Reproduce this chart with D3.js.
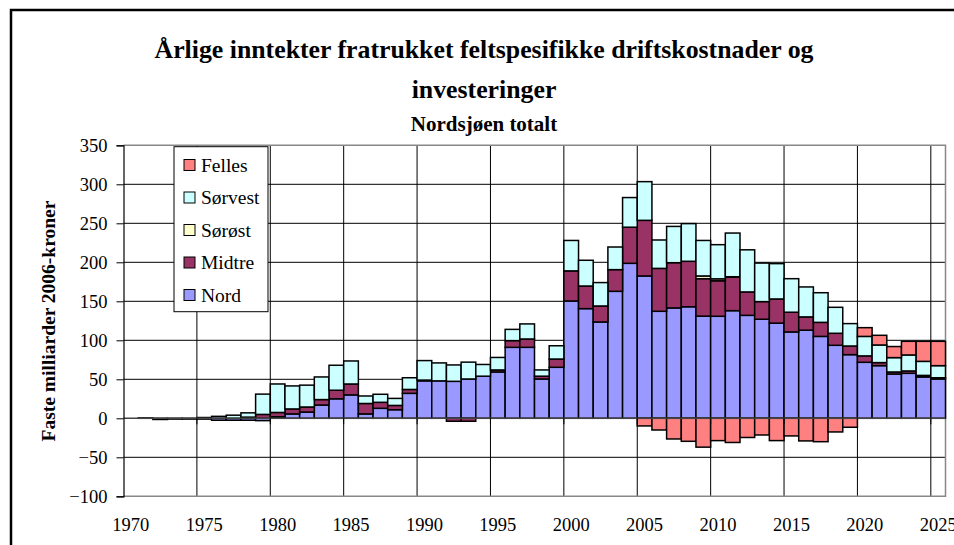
<!DOCTYPE html>
<html>
<head>
<meta charset="utf-8">
<script src="https://cdn.jsdelivr.net/npm/d3@7"></script>
<style>
  body { margin: 0; background: #fff; }
  svg text { font-family: "Liberation Serif", "Times New Roman", serif; }
</style>
</head>
<body>
<svg id="chart" width="954" height="545"></svg>
<script>
// years 1970 - 2025
const years = d3.range(1970, 2026);

// values in billion 2006-NOK
const nord = [0, 0, 0, 0, 0, -1, -2.5, -2.5, -2.5, -3,
  2, 5.6, 8, 17, 25, 30, 5.6, 12.8, 11, 32,
  48, 48, 47.4, 50.4, 54, 59.4, 91, 91, 50.4, 65.4,
  150.4, 140.6, 123.5, 162.8, 198.7, 182.5, 137.2, 141.5, 143, 131,
  130.8, 138, 132, 127, 122, 110.7, 113, 105, 93.6, 81.6,
  71.8, 67.5, 56.8, 57.7, 53, 50.4];
const midtre = [0, 0, 0, 0, 0, 0, 0, 0, 1.5, 5,
  5.5, 6.4, 6.5, 7, 11, 14, 13.4, 7.7, 5.5, 5,
  1, 0, -3.8, -3.8, 0, 2.6, 8.6, 10.7, 3.6, 10.6,
  38.6, 29, 20.5, 27.8, 46.3, 71.3, 55, 58, 58.3, 48,
  45.5, 43, 30, 22.6, 31, 25.3, 17, 18, 15.4, 11.1,
  8.2, 3.9, 2.6, 3, 2, 1.6];
const sorost = [0, 0, 0, 0, 0, 0, 0, 0, 0, 0,
  0, 0, 0, 0, 0, 0, 0, 0, 0, 0,
  0, 0, 0, 0, 0, 0, 0, 0, 0, 0,
  0, 0, 0, 0, 0, 0, 0, 0, 0, 3.5,
  2.5, 0.5, 0, 0, 0, 0, 0, 0, 0, 0,
  0, 0, 0, 0, 0, 0];
const sorvest = [0, 0.5, -1.5, -1, -1, 1, 2.5, 4, 5.5, 26,
  36.5, 29.5, 28, 29, 32, 29.5, 9.6, 10.3, 9, 15,
  25, 23, 21, 21.6, 15, 16, 14.4, 19.3, 8, 17,
  39, 33, 30, 29, 38, 49.6, 36.4, 46.5, 48.3, 45.5,
  43.8, 56, 54, 49.4, 45.3, 43, 38.4, 38, 33.3, 28.7,
  25, 22.6, 18.4, 20.5, 18, 15.5];
const felles = [0, 0, 0, 0, 0, 0, 0, 0, 0, 0,
  0, 0, 0, 0, 0, 0, 0, 0, 0, 0,
  0, 0, 0, 0, 0, 0, 0, 0, 0, 0,
  0, 0, 0, 0, 0, -9.8, -15, -26.5, -29.5, -37,
  -28.6, -31, -24.6, -21.4, -28.6, -22.6, -29, -30, -17.5, -11.5,
  11.2, 12.4, 14.2, 17.5, 25.7, 31.2];

const seriesNames = ['Nord', 'Midtre', 'Sørøst', 'Sørvest', 'Felles'];
const seriesColors = ['#9999ff', '#993366', '#ffffcc', '#ccffff', '#ff8080'];
const seriesValues = [nord, midtre, sorost, sorvest, felles];

const yTicks = [-100, -50, 0, 50, 100, 150, 200, 250, 300, 350];
const xLabelYears = [1970, 1975, 1980, 1985, 1990, 1995, 2000, 2005, 2010, 2015, 2020, 2025];

const rows = years.map((yr, i) => {
    let r = { year: yr };
    seriesNames.forEach((s, k) => { r[s] = seriesValues[k][i]; });
    return r;
});

const svg = d3.select('#chart');

// outer frame
svg.append('rect')
    .attr('x', 11).attr('y', 10)
    .attr('width', 1000).attr('height', 700)
    .attr('fill', 'none')
    .attr('stroke', '#000')
    .attr('stroke-width', 2.5);

// titles
svg.append('text')
    .attr('x', 484).attr('y', 58)
    .attr('text-anchor', 'middle')
    .attr('font-size', 25.8).attr('font-weight', 'bold')
    .text('Årlige inntekter fratrukket feltspesifikke driftskostnader og');
svg.append('text')
    .attr('x', 484).attr('y', 98)
    .attr('text-anchor', 'middle')
    .attr('font-size', 25.8).attr('font-weight', 'bold')
    .text('investeringer');
svg.append('text')
    .attr('x', 484).attr('y', 131)
    .attr('text-anchor', 'middle')
    .attr('font-size', 21).attr('font-weight', 'bold')
    .text('Nordsjøen totalt');

const xScale = d3.scaleBand()
    .domain(years)
    .range([123.5, 945.5])
    .padding(0);

const yScale = d3.scaleLinear()
    .domain([-100, 350])
    .range([496.3, 145.3]);

const plotLeft = 123.5, plotRight = 945.5;

// horizontal grid
svg.append('g')
    .selectAll('line')
    .data(yTicks.filter(t => t != 0 && t != 350 && t != -100))
    .enter()
    .append('line')
        .attr('x1', plotLeft).attr('x2', plotRight)
        .attr('y1', d => yScale(d)).attr('y2', d => yScale(d))
        .attr('stroke', '#000').attr('stroke-width', 1);

// vertical grid (Excel puts them between categories)
svg.append('g')
    .selectAll('line')
    .data(xLabelYears.filter(y => y != 1970))
    .enter()
    .append('line')
        .attr('x1', d => xScale(d)).attr('x2', d => xScale(d))
        .attr('y1', yScale(350)).attr('y2', yScale(-100))
        .attr('stroke', '#000').attr('stroke-width', 1);

// plot area border (grey)
svg.append('path')
    .attr('d', `M${plotLeft},${yScale(350)}H${plotRight}V${yScale(-100)}H${plotLeft}`)
    .attr('fill', 'none')
    .attr('stroke', '#888')
    .attr('stroke-width', 1.5);

// stacked bars, negatives stacked downward like Excel
const stack = d3.stack()
    .keys(seriesNames)
    .offset(d3.stackOffsetDiverging);
const stacked = stack(rows);

const layers = svg.append('g')
    .selectAll('g')
    .data(stacked)
    .enter()
    .append('g')
        .attr('fill', (d, i) => seriesColors[i]);

layers.selectAll('rect')
    .data(d => d.filter(p => p[1] - p[0] != 0))
    .enter()
    .append('rect')
        .attr('x', d => xScale(d.data.year))
        .attr('width', xScale.bandwidth())
        .attr('y', d => yScale(d[1]))
        .attr('height', d => yScale(d[0]) - yScale(d[1]))
        .attr('stroke', '#000')
        .attr('stroke-width', 1.5);

// zero line (category axis)
svg.append('line')
    .attr('x1', plotLeft).attr('x2', plotRight)
    .attr('y1', yScale(0)).attr('y2', yScale(0))
    .attr('stroke', '#444').attr('stroke-width', 1.5);

// tick marks on the zero line
svg.append('g')
    .selectAll('line')
    .data(xLabelYears.filter(y => y != 1970))
    .enter()
    .append('line')
        .attr('x1', d => xScale(d)).attr('x2', d => xScale(d))
        .attr('y1', yScale(0)).attr('y2', yScale(0) + 6)
        .attr('stroke', '#000');

// y axis
const yAxis = svg.append('g')
    .attr('transform', `translate(${plotLeft}, 0)`)
    .call(d3.axisLeft(yScale).tickValues(yTicks).tickSize(7).tickPadding(9).tickFormat(d3.format('d')));
yAxis.select('.domain').attr('stroke', '#000').attr('stroke-width', 1.2);
yAxis.selectAll('.tick line').attr('stroke', '#000');
yAxis.selectAll('text')
    .attr('font-size', 18.5)
    .attr('fill', '#000')
    .style('font-family', '"Liberation Serif", serif');

// x labels at bottom
svg.append('g')
    .selectAll('text')
    .data(xLabelYears)
    .enter()
    .append('text')
        .attr('x', d => xScale(d) + xScale.bandwidth() / 2)
        .attr('y', 531)
        .attr('text-anchor', 'middle')
        .attr('font-size', 18.5)
        .text(d => d);

// y axis title
svg.append('text')
    .attr('transform', 'translate(55, 321) rotate(-90)')
    .attr('text-anchor', 'middle')
    .attr('font-size', 19.5)
    .attr('font-weight', 'bold')
    .text('Faste milliarder 2006-kroner');

// legend (reverse order like Excel)
const legend = svg.append('g');
legend.append('rect')
    .attr('x', 174).attr('y', 146.7)
    .attr('width', 94).attr('height', 165)
    .attr('fill', '#fff')
    .attr('stroke', '#000');

const legendItems = legend.selectAll('g.item')
    .data(seriesNames.slice().reverse())
    .enter()
    .append('g')
        .attr('class', 'item')
        .attr('transform', (d, i) => `translate(184, ${165 + i * 32.5})`);
legendItems.append('rect')
    .attr('x', 0).attr('y', -5.5)
    .attr('width', 11).attr('height', 11)
    .attr('fill', d => seriesColors[seriesNames.indexOf(d)])
    .attr('stroke', '#000');
legendItems.append('text')
    .attr('x', 17).attr('y', 6.5)
    .attr('font-size', 19.5)
    .text(d => d);
</script>
</body>
</html>
